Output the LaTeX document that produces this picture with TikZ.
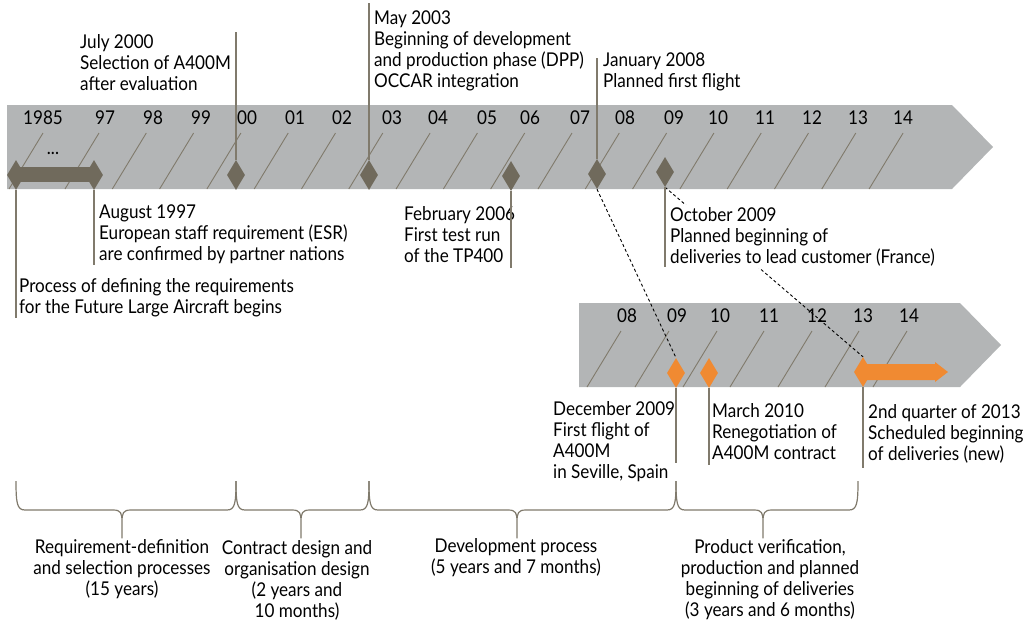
\documentclass[tikz,border=0pt]{standalone}
\usepackage{fontspec}
\setmainfont{Lato}[FakeStretch=0.9]
\usetikzlibrary{shapes.geometric}
\definecolor{bargray}{RGB}{179,181,182}
\definecolor{darkmark}{RGB}{112,106,92}
\definecolor{leader}{RGB}{128,122,108}
\definecolor{orangemark}{RGB}{240,138,50}
\tikzset{
  fnt/.style={font=\fontsize{19}{21}\selectfont},
  txt/.style={fnt, align=left, inner sep=0pt, anchor=west},
  ctxt/.style={fnt, align=center, inner sep=0pt},
  yr/.style={fnt, inner sep=0pt},
  dmark/.style={diamond, fill=darkmark, minimum width=18pt, minimum height=30pt, inner sep=0pt},
  omark/.style={diamond, fill=orangemark, minimum width=18pt, minimum height=30pt, inner sep=0pt},
  leaderline/.style={draw=leader, line width=1.2pt},
  slant/.style={draw=leader, line width=0.9pt},
  dashline/.style={draw=black, line width=0.9pt, dash pattern=on 3pt off 2.5pt},
  bracepath/.style={draw=leader, line width=1.2pt, line join=round},
}
\newcommand\mybrace[3]{%
  \draw[bracepath] (#1,481) .. controls (#1,503) and (#1+1,510) .. (#1+9,510)
    -- (#2-9,510) .. controls (#2-1,510) and (#2,513) .. (#2,522) -- (#2,538)
    -- (#2,522) .. controls (#2,513) and (#2+1,510) .. (#2+9,510)
    -- (#3-9,510) .. controls (#3-1,510) and (#3,503) .. (#3,481);}
\begin{document}
\begin{tikzpicture}[x=1pt,y=-1pt]
\useasboundingbox (0,0) rectangle (1031,622);
% main bar
\fill[bargray] (7,105) -- (952,105) -- (993,147) -- (952,189) -- (7,189) -- cycle;
\draw[slant] (43,133) -- (9,189);
\foreach \i in {0,...,17} {
  \pgfmathsetmacro\t{99+47.3*\i}
  \draw[slant] (\t,133) -- (\t-34,189);
}
\foreach \x/\l in {43/1985,105/97,153/98,201/99,247/00,295/01,342/02,392/03,438/04,487/05,530/06,580/07,625/08,674/09,718/10,765/11,812/12,858/13,903/14}
  \node[yr] (y\l) at (\x,118) {\l};
% second bar
\fill[bargray] (579,303) -- (960,303) -- (1001,345) -- (960,387) -- (579,387) -- cycle;
\foreach \t in {621,669,717,764,812,859,907}
  \draw[slant] (\t,331) -- (\t-34,387);
\foreach \x/\l in {627/08,677/09,720/10,769/11,817/12,863/13,909/14}
  \node[yr] (z\l) at (\x,316) {\l};
% left double arrow
\fill[darkmark] (16,167) rectangle (94,182);
\node[dmark] (a85) at (16,175) {};
\node[dmark] (a97) at (94,175) {};
\node[fnt, inner sep=0pt] (dots) at (53,153) {...};
% diamonds main bar
\node[dmark] (d00) at (236,175) {};
\node[dmark] (d03) at (369,175) {};
\node[dmark] (d06) at (511,176) {};
\node[dmark] (d08) at (597,174) {};
\node[dmark] (d09) at (665,172) {};
% orange marks
\node[omark] (o09) at (676,373) {};
\node[omark] (o10) at (709,373) {};
\fill[orangemark] (863,364) -- (935,364) -- (935,362) -- (948,372) -- (935,382) -- (935,380) -- (863,380) -- cycle;
\node[omark] (o13) at (863,372) {};
% dashed links
\draw[dashline] (d08.south) -- (o09.north);
\draw[dashline] (d09.south) -- (o13.north);
% texts
\node[txt] (t00) at (80,62.5) {July 2000\\Selection of A400M\\after evaluation};
\node[txt] (t03) at (374,50.5) {May 2003\\Beginning of development\\and production phase (DPP)\\OCCAR integration};
\node[txt] (t08) at (603,72) {January 2008\\Planned first flight};
\node[txt] (t97) at (99,234.5) {August 1997\\European staff requirement (ESR)\\are confirmed by partner nations};
\node[txt] (t06) at (404,234.5) {February 2006\\First test run\\of the TP400};
\node[txt, fill=white, inner sep=2pt] (t09) at (668,236.5) {October 2009\\Planned beginning of\\deliveries to lead customer (France)};
\node[txt] (t85) at (19,297.5) {Process of defining the requirements\\for the Future Large Aircraft begins};
\node[txt] (u09) at (553,442) {December 2009\\First flight of\\A400M\\in Seville, Spain};
\node[txt] (u10) at (712,431.5) {March 2010\\Renegotiation of\\A400M contract};
\node[txt] (u13) at (868,433.5) {2nd quarter of 2013\\Scheduled beginning\\of deliveries (new)};
% leader lines
\coordinate (e00) at (236,32);
\coordinate (e03) at (369,3);
\coordinate (e08) at (597,58);
\coordinate (e97) at (94,265);
\coordinate (e85) at (16,318);
\coordinate (e06) at (511,268);
\coordinate (e09) at (665,267);
\coordinate (f09) at (676,463);
\coordinate (f10) at (709,465);
\coordinate (f13) at (863,468);
\draw[leaderline] (e00) -- (d00.north);
\draw[leaderline] (e03) -- (d03.north);
\draw[leaderline] (e08) -- (d08.north);
\draw[leaderline] (a97.south) -- (e97);
\draw[leaderline] (a85.south) -- (e85);
\draw[leaderline] (d06.south) -- (e06);
\draw[leaderline] (d09.south) -- (e09);
\draw[leaderline] (o09.south) -- (f09);
\draw[leaderline] (o10.south) -- (f10);
\draw[leaderline] (o13.south) -- (f13);
% braces
\mybrace{16}{122}{236}
\mybrace{236}{301}{369}
\mybrace{369}{517}{676}
\mybrace{676}{763}{858}
\node[ctxt] (b1) at (122,569) {Requirement-definition\\and selection processes\\(15 years)};
\node[ctxt] (b2) at (297,580) {Contract design and\\organisation design\\(2 years and\\10 months)};
\node[ctxt] (b3) at (516,558) {Development process\\(5 years and 7 months)};
\node[ctxt] (b4) at (770,580) {Product verification,\\production and planned\\beginning of deliveries\\(3 years and 6 months)};
\end{tikzpicture}
\end{document}
